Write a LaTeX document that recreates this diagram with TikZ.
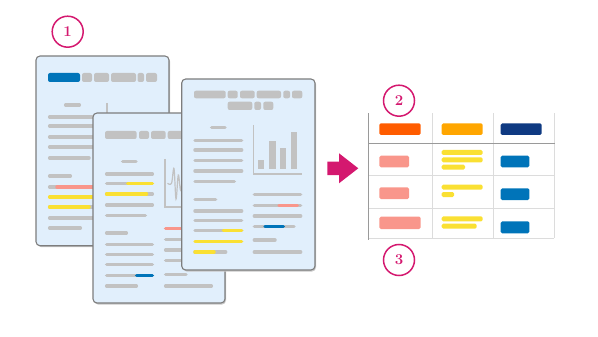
\documentclass[tikz,border=0pt]{standalone}
\usepackage{tikz}
\usetikzlibrary{positioning, calc}
\usepackage{xcolor}

\definecolor{docfill}{HTML}{E1EFFC}
\definecolor{docline}{HTML}{7D7D7D}
\definecolor{bargray}{HTML}{C2C2C2}
\definecolor{baryellow}{HTML}{FAE033}
\definecolor{barsalmon}{HTML}{F9968B}
\definecolor{barblue}{HTML}{0074B9}
\definecolor{hdorange}{HTML}{FF5C00}
\definecolor{hdamber}{HTML}{FFA600}
\definecolor{hdnavy}{HTML}{0F3A82}
\definecolor{accent}{HTML}{D4186F}
\definecolor{gridlight}{HTML}{DCDCDC}
\definecolor{griddark}{HTML}{9A9A9A}

\begin{document}
\begin{tikzpicture}[x=1pt, y=-1pt,
    paper/.style={draw=docline, line width=1.1pt, fill=docfill, rounded corners=4pt},
    papershadow/.style={fill=black!22, rounded corners=4pt},
    rowbar/.style={line width=3.5pt, line cap=round, draw=bargray},
    headbar/.style={fill=bargray, rounded corners=2pt},
    axisline/.style={draw=bargray, line width=1.3pt},
    cellbar/.style={rounded corners=1.5pt},
    badge/.style={circle, draw=accent, line width=1.5pt, minimum size=31pt, inner sep=0pt, text=accent, font=\fontsize{15}{17}\selectfont\bfseries}]
    \useasboundingbox (0,0) rectangle (598,337);

    % Document 1
    \fill[papershadow] (37,57.5) rectangle (170,247);
    \draw[paper] (36,56) rectangle (169,245.7);
    \fill[barblue, rounded corners=2pt] (48,73) rectangle (80,82);
    \fill[headbar] (82,73) rectangle (92,82);
    \fill[headbar] (94,73) rectangle (109,82);
    \fill[headbar] (111,73) rectangle (136,82);
    \fill[headbar] (137.5,73) rectangle (144,82);
    \fill[headbar] (146,73) rectangle (157,82);
    \draw[rowbar] (65.7,105) -- (79.3,105);
    \draw[axisline] (107,103) -- (107,150);
    \draw[rowbar] (49.7,117) -- (95.3,117);
    \draw[rowbar] (49.7,126) -- (95.3,126);
    \draw[rowbar] (49.7,137) -- (95.3,137);
    \draw[rowbar] (49.7,147) -- (95.3,147);
    \draw[rowbar] (49.7,158) -- (89,158);
    \draw[rowbar] (49.7,176) -- (70.3,176);
    \draw[rowbar] (49.7,187) -- (95.3,187);
    \draw[rowbar, barsalmon] (57,187) -- (95.3,187);
    \draw[rowbar, baryellow] (49.7,197) -- (95.3,197);
    \draw[rowbar] (49.7,207) -- (95.3,207);
    \draw[rowbar, baryellow] (49.7,207) -- (89,207);
    \draw[rowbar] (49.7,218) -- (95.3,218);
    \draw[rowbar] (49.7,228) -- (80.3,228);

    % Document 2
    \fill[papershadow] (94,114.5) rectangle (226,304.5);
    \draw[paper] (93,113) rectangle (225,303);
    \fill[headbar] (105,131) rectangle (136.7,139);
    \fill[headbar] (139,131) rectangle (149,139);
    \fill[headbar] (151,131) rectangle (165.7,139);
    \fill[headbar] (167.7,131) rectangle (192,139);
    \fill[headbar] (194,131) rectangle (201,139);
    \fill[headbar] (203,131) rectangle (214,139);
    \draw[rowbar] (122.7,161.7) -- (136,161.7);
    \draw[axisline] (165,159) -- (165,207) -- (214,207);
    \draw[draw=bargray, line width=1.2pt] plot[smooth, tension=0.6] coordinates
        {(167.5,183.3) (171.5,183.3) (174,168.5) (176,199) (178.3,175) (180.5,190) (182.5,181) (185,186)};
    \draw[rowbar] (106.7,174) -- (152.3,174);
    \draw[rowbar] (106.7,183.3) -- (152.3,183.3);
    \draw[rowbar, baryellow] (127.7,183.3) -- (152.3,183.3);
    \draw[rowbar] (106.7,194) -- (152.3,194);
    \draw[rowbar, baryellow] (106.7,194) -- (146.5,194);
    \draw[rowbar] (106.7,205) -- (152.3,205);
    \draw[rowbar] (106.7,215.3) -- (145.3,215.3);
    \draw[rowbar] (106.7,233) -- (126.3,233);
    \draw[rowbar] (106.7,244.7) -- (152.3,244.7);
    \draw[rowbar] (106.7,254.3) -- (152.3,254.3);
    \draw[rowbar] (106.7,264.7) -- (152.3,264.7);
    \draw[rowbar] (106.7,275.3) -- (152.3,275.3);
    \draw[rowbar, barblue] (136.7,275.3) -- (152.3,275.3);
    \draw[rowbar] (106.7,286) -- (136.3,286);
    \draw[rowbar] (165.7,228.7) -- (211.3,228.7);
    \draw[rowbar, barsalmon] (165.7,228.7) -- (190,228.7);
    \draw[rowbar] (165.7,239.3) -- (211.3,239.3);
    \draw[rowbar] (165.7,250) -- (211.3,250);
    \draw[rowbar] (165.7,260.7) -- (211.3,260.7);
    \draw[rowbar] (165.7,274.7) -- (186,274.7);
    \draw[rowbar] (165.7,286) -- (211.3,286);

    % Document 3
    \fill[papershadow] (182.7,80.5) rectangle (316,271.5);
    \draw[paper] (181.7,79) rectangle (315,270);
    \fill[headbar] (194,90.7) rectangle (225.7,98.3);
    \fill[headbar] (227.7,90.7) rectangle (237.7,98.3);
    \fill[headbar] (240,90.7) rectangle (254.7,98.3);
    \fill[headbar] (256.7,90.7) rectangle (281,98.3);
    \fill[headbar] (283.3,90.7) rectangle (290,98.3);
    \fill[headbar] (292,90.7) rectangle (302.3,98.3);
    \fill[headbar] (227.7,101.7) rectangle (252.3,110);
    \fill[headbar] (254.3,101.7) rectangle (261,110);
    \fill[headbar] (263.3,101.7) rectangle (273.3,110);
    \draw[rowbar] (211.7,127.7) -- (225,127.7);
    \draw[axisline] (253.3,125) -- (253.3,174) -- (302.3,174);
    \fill[bargray] (258.3,160) rectangle (264.3,169);
    \fill[bargray] (269.3,141) rectangle (275.7,169);
    \fill[bargray] (280.3,148.3) rectangle (286.3,169);
    \fill[bargray] (291.3,132.3) rectangle (297.3,169);
    \draw[rowbar] (195,140.3) -- (241.6,140.3);
    \draw[rowbar] (195,150) -- (241.6,150);
    \draw[rowbar] (195,160.3) -- (241.6,160.3);
    \draw[rowbar] (195,171) -- (241.6,171);
    \draw[rowbar] (195,181.7) -- (234.3,181.7);
    \draw[rowbar] (195,199.3) -- (215.6,199.3);
    \draw[rowbar] (195,211) -- (241.6,211);
    \draw[rowbar] (195,220.7) -- (241.6,220.7);
    \draw[rowbar] (195,230.7) -- (241.6,230.7);
    \draw[rowbar, baryellow] (223.4,230.7) -- (241.6,230.7);
    \draw[rowbar, baryellow] (195,241.3) -- (241.6,241.3);
    \draw[rowbar] (195,252) -- (225.6,252);
    \draw[rowbar, baryellow] (195,252) -- (214,252);
    \draw[rowbar] (254.4,194.3) -- (300.6,194.3);
    \draw[rowbar] (254.4,205.3) -- (300.6,205.3);
    \draw[rowbar, barsalmon] (279,205.3) -- (297.3,205.3);
    \draw[rowbar] (254.4,216) -- (300.6,216);
    \draw[rowbar] (254.4,226.7) -- (294,226.7);
    \draw[rowbar, barblue] (265,226.7) -- (283.3,226.7);
    \draw[rowbar] (254.4,240) -- (275,240);
    \draw[rowbar] (254.4,252) -- (300.6,252);

    % Arrow to the table
    \fill[accent] (327.3,161.7) -- (339,161.7) -- (339,153.3) -- (358.3,168.3)
        -- (339,183.3) -- (339,175) -- (327.3,175) -- cycle;

    % Table grid
    \draw[gridlight, line width=1pt] (432.3,113.3) -- (432.3,238.3);
    \draw[gridlight, line width=1pt] (493.3,113.3) -- (493.3,238.3);
    \draw[gridlight, line width=1pt] (554,113.3) -- (554,238.3);
    \draw[gridlight, line width=1pt] (368.3,175.7) -- (554,175.7);
    \draw[gridlight, line width=1pt] (368.3,208.3) -- (554,208.3);
    \draw[gridlight, line width=1pt] (368.3,238.3) -- (554,238.3);
    \draw[griddark, line width=1.5pt] (368.3,143.3) -- (554.5,143.3);
    \draw[griddark, line width=1.5pt] (368.3,113.3) -- (368.3,239.5);

    % Header cells
    \fill[cellbar, hdorange] (379.3,123.3) rectangle (420.7,135);
    \fill[cellbar, hdamber] (441.7,123.3) rectangle (482.7,135);
    \fill[cellbar, hdnavy] (500.7,123.3) rectangle (541.7,135);

    % Row 1
    \fill[cellbar, barsalmon] (379.3,155.7) rectangle (409,167.3);
    \fill[cellbar, baryellow] (441.7,150) rectangle (482.7,155);
    \fill[cellbar, baryellow] (441.7,157.3) rectangle (482.7,162.3);
    \fill[cellbar, baryellow] (441.7,164.7) rectangle (465,169.7);
    \fill[cellbar, barblue] (500.7,155.7) rectangle (529.3,167.3);
    % Row 2
    \fill[cellbar, barsalmon] (379.3,187.3) rectangle (409,199);
    \fill[cellbar, baryellow] (441.7,184.7) rectangle (482.7,189.7);
    \fill[cellbar, baryellow] (441.7,192) rectangle (454,197);
    \fill[cellbar, barblue] (500.7,188.3) rectangle (529.3,200);
    % Row 3
    \fill[cellbar, barsalmon] (379.3,216.7) rectangle (420.7,229);
    \fill[cellbar, baryellow] (441.7,216.3) rectangle (482.7,221.3);
    \fill[cellbar, baryellow] (441.7,223.7) rectangle (476.7,228.7);
    \fill[cellbar, barblue] (500.7,221.3) rectangle (529.3,233.3);

    % Step badges
    \node[badge] (num1) at (67.7,31.7) {1};
    \node[badge] (num2) at (399,100.7) {2};
    \node[badge] (num3) at (399,260) {3};
\end{tikzpicture}
\end{document}
